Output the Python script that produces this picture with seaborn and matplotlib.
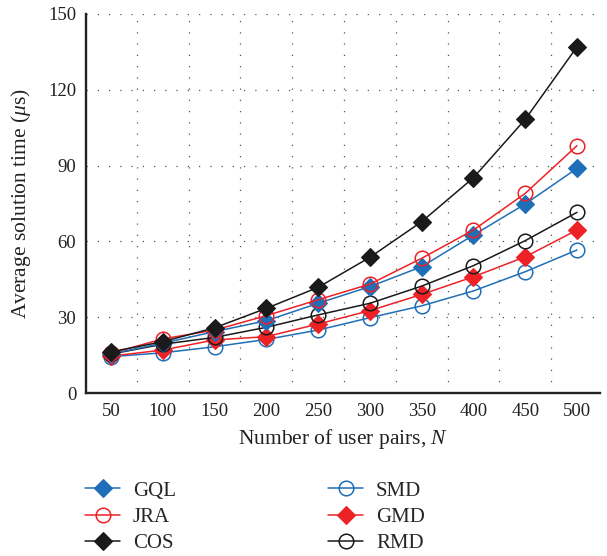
import matplotlib
matplotlib.use("Agg")
import matplotlib.pyplot as plt
import seaborn as sns
import pandas as pd
import numpy as np

N = [50, 100, 150, 200, 250, 300, 350, 400, 450, 500]
GQL = [15.5, 19.7, 24.3, 28.6, 35.5, 42.1, 50.0, 62.5, 74.8, 88.9]
JRA = [15.7, 21.4, 24.9, 30.6, 36.9, 43.1, 53.3, 64.5, 79.0, 97.9]
COS = [16.3, 20.3, 25.8, 33.5, 41.8, 53.7, 67.8, 85.2, 108.3, 137.0]
SMD = [14.4, 15.9, 18.3, 21.2, 24.9, 29.8, 34.5, 40.4, 48.0, 56.6]
GMD = [14.6, 17.0, 21.0, 22.3, 27.3, 32.6, 39.0, 46.0, 53.9, 64.5]
RMD = [15.4, 19.3, 22.0, 26.0, 30.9, 35.5, 42.3, 50.4, 60.3, 71.5]
y_ticks = [0, 30, 60, 90, 120, 150]

BLUE = "#1f6fb8"
RED = "#ec2227"
BLACK = "#1a1a1a"

sns.set_style("white")
plt.rcParams["font.family"] = ["Liberation Serif", "DejaVu Serif"]
plt.rcParams["mathtext.fontset"] = "custom"
plt.rcParams["mathtext.it"] = "Liberation Serif:italic"
plt.rcParams["mathtext.rm"] = "Liberation Serif"

fig = plt.figure(figsize=(6.07, 5.56), dpi=100)
ax = fig.add_axes([86/607, 1-393/556, (600-86)/607, (393-14)/556])

series = {
    "GQL": (GQL, BLUE, "D", True),
    "JRA": (JRA, RED, "o", False),
    "COS": (COS, BLACK, "D", True),
    "SMD": (SMD, BLUE, "o", False),
    "GMD": (GMD, RED, "D", True),
    "RMD": (RMD, BLACK, "o", False),
}
draw_order = ["SMD", "GMD", "RMD", "GQL", "JRA", "COS"]
handles = {}
for name in draw_order:
    vals, col, mk, filled = series[name]
    df = pd.DataFrame({"N": N, "t": vals})
    sns.lineplot(data=df, x="N", y="t", ax=ax, color=col, linewidth=1.1,
                 marker=mk, markersize=9.5 if mk == "D" else 10.5,
                 markerfacecolor=col if filled else "none",
                 markeredgecolor=col, markeredgewidth=1.1 if not filled else 0.8,
                 label=name)
    handles[name] = ax.get_lines()[-1]

ax.set_xlim(25.9, 522.2)
ax.set_ylim(0, 150)
ax.set_xticks(N)
ax.set_xticks(np.arange(75, 500, 50), minor=True)
ax.set_yticks(y_ticks)
ax.tick_params(axis="y", which="major", direction="in", length=6, width=1.4,
               labelsize=13.5, pad=7, colors="#222222")
ax.tick_params(axis="x", which="both", length=0, labelsize=13.5, pad=7,
               colors="#222222")
ax.grid(False)
ax.xaxis.grid(True, which="minor", linestyle=(0, (1, 8)), color="#555555", linewidth=0.9)
ax.yaxis.grid(True, which="major", linestyle=(0, (1, 8)), color="#555555", linewidth=0.9)
for s in ["top", "right"]:
    ax.spines[s].set_visible(False)
for s in ["left", "bottom"]:
    ax.spines[s].set_linewidth(1.7)
    ax.spines[s].set_color("#222222")

ax.set_xlabel("Number of user pairs, $N$", fontsize=15.5, labelpad=5, color="#222222")
ax.set_ylabel("Average solution time ($\\mu$s)", fontsize=15.5, labelpad=11, color="#222222")
if ax.get_legend():
    ax.get_legend().remove()

leg_kw = dict(loc="upper left", ncol=1, frameon=False, fontsize=15,
              handlelength=1.7, labelspacing=0.33, handletextpad=0.6,
              borderpad=0, borderaxespad=0)
col1 = ["GQL", "JRA", "COS"]
col2 = ["SMD", "GMD", "RMD"]
fig.legend([handles[n] for n in col1], col1,
           bbox_to_anchor=(85/607, 1-481/556), **leg_kw)
fig.legend([handles[n] for n in col2], col2,
           bbox_to_anchor=(328/607, 1-481/556), **leg_kw)

fig.savefig("out.png", dpi=100)
